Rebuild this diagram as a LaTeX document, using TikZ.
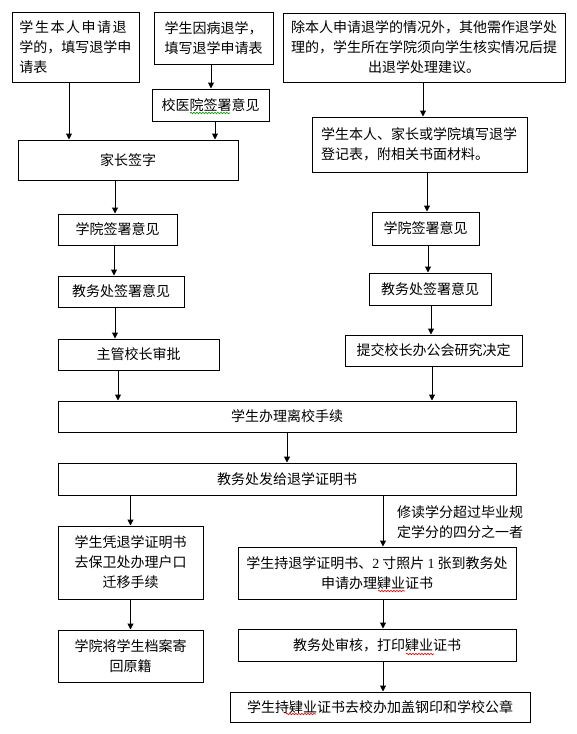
\documentclass[tikz,border=0pt]{standalone}
\usepackage{fontspec}
\setmainfont{Noto Sans CJK SC}
\newfontfamily\numFont{Liberation Serif}
\usetikzlibrary{arrows.meta,positioning,decorations.pathmorphing}
\tikzset{
  >={Triangle[length=6pt,width=6pt]},
  box/.style = {draw, line width=1pt, align=center, inner sep=0pt, font=\fontsize{14pt}{20pt}\selectfont},
  note/.style = {align=left, inner sep=0pt, font=\fontsize{14pt}{20pt}\selectfont},
  flow/.style = {->, line width=1pt},
  spellMark/.style = {line width=0.6pt, decorate, decoration={snake, amplitude=0.8pt, segment length=3pt}},
}

\begin{document}
\begin{tikzpicture}[x=1pt, y=-1pt]
  \fill[white] (0,0) rectangle (576,734);
  \useasboundingbox (0,0) rectangle (576,734);

  % ----------------------------------------------------------------------
  % Top: three ways to start
  % ----------------------------------------------------------------------
  \node[box, minimum width=127, minimum height=70, text width=112pt, align=left] (apply) at (75.5,47) {{\addfontfeature{LetterSpace=11}学生本人申请退}\\学的，填写退学申\\请表};
  \node[box, minimum width=119, minimum height=52] (ill) at (213.5,38) {学生因病退学，\\填写退学申请表};
  \node[box, minimum width=117, minimum height=32] (clinic) at (210.5,105) {校医院签署意见};
  \node[box, minimum width=282, minimum height=69] (other) at (424,47.5) {除本人申请退学的情况外，其他需作退学处\\理的，学生所在学院须向学生核实情况后提\\出退学处理建议。};
  \node[box, minimum width=215, minimum height=55, text width=197pt, align=left] (register) at (419.5,144.5) {学生本人、家长或学院填写退学\\登记表，附相关书面材料。};

  % ----------------------------------------------------------------------
  % Left column
  % ----------------------------------------------------------------------
  \node[box, minimum width=220, minimum height=40] (parent) at (128,160) {家长签字};
  \node[box, minimum width=119, minimum height=31] (collegeL) at (117.5,229.5) {学院签署意见};
  \node[box, minimum width=126, minimum height=31] (officeL) at (121,291.5) {教务处签署意见};
  \node[box, minimum width=161, minimum height=31] (president) at (138.5,354.5) {主管校长审批};

  % ----------------------------------------------------------------------
  % Right column
  % ----------------------------------------------------------------------
  \node[box, minimum width=107, minimum height=33] (collegeR) at (425.5,228.5) {学院签署意见};
  \node[box, minimum width=122, minimum height=32] (officeR) at (430,289) {教务处签署意见};
  \node[box, minimum width=177, minimum height=31] (meeting) at (433.5,350.5) {提交校长办公会研究决定};

  % ----------------------------------------------------------------------
  % Common steps and the two endings
  % ----------------------------------------------------------------------
  \node[box, minimum width=458, minimum height=31] (leave) at (287,416.5) {学生办理离校手续};
  \node[box, minimum width=458, minimum height=32] (cert) at (287,479) {教务处发给退学证明书};
  \node[box, minimum width=145, minimum height=73] (hukou) at (130.5,562.5) {学生凭退学证明书\\去保卫处办理户口\\迁移手续};
  \node[box, minimum width=145, minimum height=52] (archive) at (130.5,656) {学院将学生档案寄\\回原籍};
  \node[box, minimum width=278, minimum height=52] (apply2) at (377,573) {学生持退学证明书、{\numFont 2} 寸照片 {\numFont 1} 张到教务处\\申请办理肄业证书};
  \node[box, minimum width=278, minimum height=32] (review) at (377,645) {教务处审核，打印肄业证书};
  \node[box, minimum width=300, minimum height=30] (seal) at (380,707) {学生持肄业证书去校办加盖钢印和学校公章};
  \node[note, anchor=west] (rule) at (397,522) {修读学分超过毕业规\\定学分的四分之一者};

  % arrows
  \draw[flow] (apply.south -| 69,0) -- (parent.north -| 69,0);
  \draw[flow] (ill.south -| 211,0) -- (clinic.north -| 211,0);
  \draw[flow] (clinic.south -| 215,0) -- (parent.north -| 215,0);
  \draw[flow] (other.south -| 423,0) -- (register.north -| 423,0);
  \draw[flow] (parent.south -| 115,0) -- (collegeL.north -| 115,0);
  \draw[flow] (collegeL.south -| 114,0) -- (officeL.north -| 114,0);
  \draw[flow] (officeL.south -| 115,0) -- (president.north -| 115,0);
  \draw[flow] (president.south -| 118,0) -- (leave.north -| 118,0);
  \draw[flow] (register.south -| 427,0) -- (collegeR.north -| 427,0);
  \draw[flow] (collegeR.south -| 428,0) -- (officeR.north -| 428,0);
  \draw[flow] (officeR.south -| 431,0) -- (meeting.north -| 431,0);
  \draw[flow] (meeting.south -| 432,0) -- (leave.north -| 432,0);
  \draw[flow] (leave) -- (cert);
  \draw[flow] (cert.south -| 130.5,0) -- (hukou.north -| 130.5,0);
  \draw[flow] (cert.south -| 383,0) -- (apply2.north -| 383,0);
  \draw[flow] (hukou) -- (archive);
  \draw[flow] (apply2.south -| 383,0) -- (review.north -| 383,0);
  \draw[flow] (review.south -| 383,0) -- (seal.north -| 383,0);

  % spell-check marks
  \draw[spellMark, green!60!black] (190,113) -- (230,113);
  \draw[spellMark, red] (378,591) -- (405,591);
  \draw[spellMark, red] (406,654) -- (434,654);
  \draw[spellMark, red] (286,714) -- (316,714);
\end{tikzpicture}
\end{document}
